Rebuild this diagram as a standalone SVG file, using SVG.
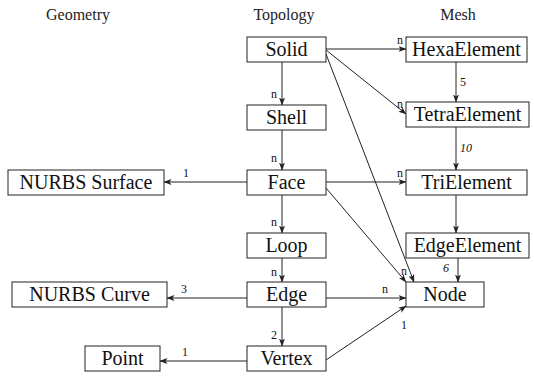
<svg xmlns="http://www.w3.org/2000/svg" width="534" height="382" viewBox="0 0 534 382" font-family="'Liberation Serif','DejaVu Serif',serif">
<style>
text{font-family:'Liberation Serif','Times New Roman','DejaVu Serif',serif}
.box rect{fill:#fff;stroke:#222;stroke-width:1}
.box text{font-size:20px;fill:#111;text-anchor:middle}
.hdr{font-size:16px;fill:#222;text-anchor:middle}
.lbl{font-size:12px;fill:#111}
.it{font-style:italic}
#conn line{stroke:#222;stroke-width:1;marker-end:url(#ah)}
</style>
<defs>
<marker id="ah" markerWidth="8" markerHeight="6" refX="7.5" refY="3" orient="auto" markerUnits="userSpaceOnUse">
<path d="M0,0 L8,3 L0,6 L2,3 Z" fill="#222"/>
</marker>
</defs>
<rect width="534" height="382" fill="#fff"/>
<text class="hdr" x="78" y="20">Geometry</text>
<text class="hdr" x="284" y="20">Topology</text>
<text class="hdr" x="458" y="20">Mesh</text>

<g id="conn">
<line x1="326" y1="49" x2="406" y2="49"/>
<line x1="326" y1="50" x2="406" y2="114"/>
<line x1="326" y1="54" x2="414" y2="282"/>
<line x1="282" y1="62" x2="282" y2="105"/>
<line x1="282" y1="130" x2="282" y2="170"/>
<line x1="282" y1="195" x2="282" y2="233"/>
<line x1="282" y1="258" x2="282" y2="282"/>
<line x1="282" y1="307" x2="282" y2="346"/>
<line x1="247" y1="182" x2="164" y2="182"/>
<line x1="326" y1="182" x2="406" y2="182"/>
<line x1="326" y1="188" x2="406" y2="282"/>
<line x1="247" y1="298" x2="167" y2="298"/>
<line x1="326" y1="298" x2="406" y2="298"/>
<line x1="247" y1="361" x2="160" y2="361"/>
<line x1="326" y1="360" x2="406" y2="306"/>
<line x1="456" y1="62" x2="456" y2="102"/>
<line x1="456" y1="127" x2="456" y2="170"/>
<line x1="456" y1="195" x2="456" y2="233"/>
<line x1="458" y1="258" x2="458" y2="282"/>
<text class="lbl" x="397" y="44">n</text>
<text class="lbl" x="397" y="108">n</text>
<text class="lbl" x="401" y="275">n</text>
<text class="lbl" x="271" y="98">n</text>
<text class="lbl" x="271" y="162">n</text>
<text class="lbl" x="271" y="226">n</text>
<text class="lbl" x="271" y="276">n</text>
<text class="lbl" x="271" y="339">2</text>
<text class="lbl" x="183" y="177">1</text>
<text class="lbl" x="397" y="177">n</text>
<text class="lbl" x="181" y="293">3</text>
<text class="lbl" x="382" y="293">n</text>
<text class="lbl" x="401" y="329">1</text>
<text class="lbl" x="182" y="356">1</text>
<text class="lbl" x="460" y="86">5</text>
<text class="lbl it" x="460" y="152">10</text>
<text class="lbl it" x="443" y="272">6</text>
</g>

<g id="solid" class="box"><rect x="247" y="37" width="79" height="25"/><text x="286.5" y="56">Solid</text></g>
<g id="shell" class="box"><rect x="247" y="105" width="79" height="25"/><text x="286.5" y="124">Shell</text></g>
<g id="face" class="box"><rect x="247" y="170" width="79" height="25"/><text x="286.5" y="189">Face</text></g>
<g id="loop" class="box"><rect x="247" y="233" width="79" height="25"/><text x="286.5" y="252">Loop</text></g>
<g id="edge" class="box"><rect x="247" y="282" width="79" height="25"/><text x="286.5" y="301">Edge</text></g>
<g id="vertex" class="box"><rect x="247" y="346" width="79" height="25"/><text x="286.5" y="365">Vertex</text></g>
<g id="hexa" class="box"><rect x="406" y="37" width="121" height="25"/><text x="466.5" y="56">HexaElement</text></g>
<g id="tetra" class="box"><rect x="406" y="102" width="123" height="25"/><text x="467.5" y="121">TetraElement</text></g>
<g id="tri" class="box"><rect x="406" y="170" width="121" height="25"/><text x="466.5" y="189">TriElement</text></g>
<g id="edgeel" class="box"><rect x="406" y="233" width="123" height="25"/><text x="467.5" y="252">EdgeElement</text></g>
<g id="node" class="box"><rect x="406" y="282" width="78" height="25"/><text x="445" y="301">Node</text></g>
<g id="nsurf" class="box"><rect x="8" y="170" width="156" height="25"/><text x="86" y="189">NURBS Surface</text></g>
<g id="ncurve" class="box"><rect x="12" y="282" width="155" height="25"/><text x="89.5" y="301">NURBS Curve</text></g>
<g id="point" class="box"><rect x="85" y="346" width="75" height="25"/><text x="122.5" y="365">Point</text></g>
</svg>
